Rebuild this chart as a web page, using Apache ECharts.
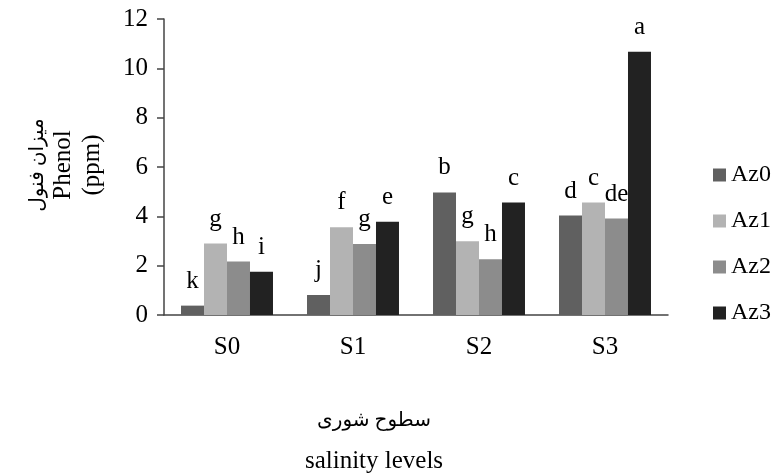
<!DOCTYPE html>
<html><head><meta charset="utf-8">
<script src="https://cdn.jsdelivr.net/npm/echarts@6/dist/echarts.min.js"></script>
<style>html,body{margin:0;padding:0;background:#fff}#c{width:775px;height:475px}</style>
</head><body><div id="c"></div>
<script>
const categories = ['S0', 'S1', 'S2', 'S3'];
const seriesNames = ['Az0', 'Az1', 'Az2', 'Az3'];
const az0 = [0.38, 0.81, 4.97, 4.03];
const az1 = [2.90, 3.56, 2.99, 4.56];
const az2 = [2.17, 2.88, 2.26, 3.91];
const az3 = [1.75, 3.78, 4.56, 10.67];
const letters0 = ['k', 'j', 'b', 'd'];
const letters1 = ['g', 'f', 'g', 'c'];
const letters2 = ['h', 'g', 'h', 'de'];
const letters3 = ['i', 'e', 'c', 'a'];
const yTicks = [0, 2, 4, 6, 8, 10, 12];
const colors = ['#606060', '#b3b3b3', '#8c8c8c', '#222222'];

const FONT = '"Liberation Serif", "DejaVu Serif", serif';
const AFONT = '"Liberation Serif", "DejaVu Sans", sans-serif';
const values = [az0, az1, az2, az3];
const letters = [letters0, letters1, letters2, letters3];

const chart = echarts.init(document.getElementById('c'));
chart.setOption({
  animation: false,
  textStyle: { fontFamily: FONT },
  grid: { left: 164, top: 19, right: 107, bottom: 160, containLabel: false },
  legend: {
    orient: 'vertical', left: 708, top: 158,
    itemWidth: 13, itemHeight: 13, itemGap: 22,
    icon: 'rect',
    textStyle: { fontFamily: FONT, fontSize: 24, color: '#000' },
    data: seriesNames
  },
  xAxis: {
    type: 'category', data: categories,
    axisLine: { lineStyle: { color: '#444', width: 1.5 } },
    axisTick: { show: false },
    axisLabel: { fontFamily: FONT, fontSize: 25, color: '#000', margin: 20 }
  },
  yAxis: {
    type: 'value', min: yTicks[0], max: yTicks[yTicks.length - 1], interval: 2,
    axisLine: { show: true, lineStyle: { color: '#444', width: 1.5 } },
    axisTick: { show: true, length: 7, lineStyle: { color: '#444', width: 1.5 } },
    splitLine: { show: false },
    axisLabel: { fontFamily: FONT, fontSize: 25, color: '#000', margin: 16 }
  },
  series: seriesNames.map((name, i) => ({
    name, type: 'bar', data: values[i],
    barGap: '0%', barCategoryGap: '27%',
    itemStyle: { color: colors[i] },
    label: {
      show: true, position: 'top', distance: 12,
      fontFamily: FONT, fontSize: 25, color: '#000',
      formatter: p => letters[i][p.dataIndex]
    }
  })),
  graphic: [
    { type: 'text', x: 38, y: 165, rotation: Math.PI / 2,
      style: { text: 'میزان فنول', font: '20px ' + AFONT, fill: '#000', align: 'center', verticalAlign: 'middle' } },
    { type: 'text', x: 63, y: 165, rotation: Math.PI / 2,
      style: { text: 'Phenol', font: '25px ' + FONT, fill: '#000', align: 'center', verticalAlign: 'middle' } },
    { type: 'text', x: 92, y: 165, rotation: Math.PI / 2,
      style: { text: '(ppm)', font: '25px ' + FONT, fill: '#000', align: 'center', verticalAlign: 'middle' } },
    { type: 'text', x: 374, y: 421,
      style: { text: 'سطوح شوری', font: '20px ' + AFONT, fill: '#000', align: 'center', verticalAlign: 'middle' } },
    { type: 'text', x: 374, y: 461,
      style: { text: 'salinity levels', font: '25px ' + FONT, fill: '#000', align: 'center', verticalAlign: 'middle' } }
  ]
});
</script></body></html>
